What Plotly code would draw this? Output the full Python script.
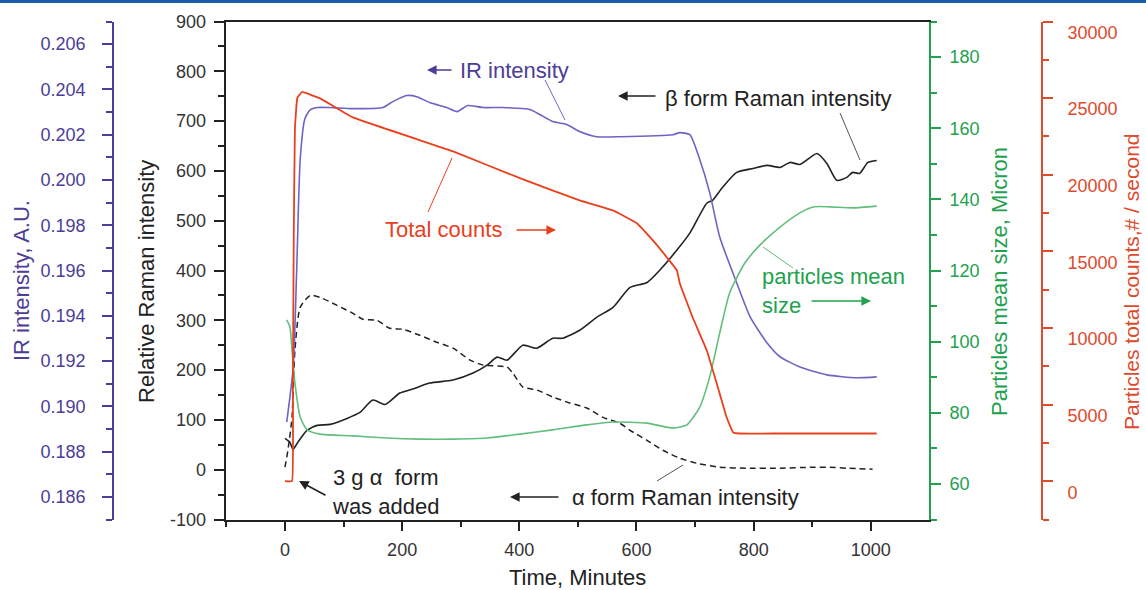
import plotly.graph_objects as go

# ---------------- data ----------------
time_ir = [3, 14, 20, 26, 34, 43, 55, 77, 116, 167, 184, 208, 225, 247, 276, 294, 312, 338, 372,
           418, 435, 457, 481, 503, 532, 572, 662, 674, 691, 708, 725, 742, 771, 794, 823, 845,
           879, 925, 976, 1010]
ir_intensity = [0.1893, 0.1917, 0.1960, 0.2009, 0.2027, 0.2031, 0.2032, 0.2032, 0.20315, 0.2032,
                0.20346, 0.20373, 0.20368, 0.20342, 0.2032, 0.20302, 0.20329, 0.2032, 0.2032,
                0.20311, 0.20289, 0.20258, 0.20245, 0.20214, 0.20191, 0.20191, 0.2020, 0.20209,
                0.2020, 0.2009, 0.19944, 0.19749, 0.19546, 0.19395, 0.1928, 0.19219, 0.19174,
                0.19139, 0.19126, 0.1913]

time_counts = [0, 12, 13.5, 15, 17, 21, 29, 60, 116, 287, 401, 503, 560, 601, 628, 652, 669, 674,
               696, 720, 737, 754, 765, 776, 845, 1010]
total_counts = [0, 0, 6000, 16000, 23000, 25000, 25400, 24980, 23740, 21521, 19778, 18323, 17670,
                16821, 15712, 14602, 13753, 12905, 10685, 8531, 6377, 4158, 3179, 3113, 3113, 3113]

time_size = [3, 8.5, 12, 17, 26, 38, 60, 116, 174, 230, 287, 345, 401, 457, 515, 560, 618, 662,
             686, 708, 725, 742, 759, 785, 811, 845, 879, 904, 930, 969, 1010]
mean_size = [106.1, 104.1, 97.7, 88.4, 78.8, 75.2, 74.0, 73.5, 72.9, 72.6, 72.6, 72.9, 74.0, 75.2,
             76.6, 77.4, 77.1, 75.7, 76.6, 81.6, 90.1, 102.4, 113.7, 122.1, 127.2, 132.2, 136.2,
             137.9, 137.9, 137.6, 138.1]

time_beta = [0, 8.5, 13.7, 22, 37.5, 55, 77, 106, 128, 150, 171, 196, 218, 247, 287, 321, 345, 362,
             379, 406, 430, 457, 474, 503, 532, 560, 589, 618, 640, 669, 691, 720, 730, 747, 771,
             799, 823, 845, 862, 879, 908, 925, 942, 959, 969, 981, 995, 1010]
beta_raman = [63, 55, 41, 55, 79, 89, 91, 103, 115, 140, 131, 154, 162, 174, 180, 194, 210, 226,
              220, 250, 244, 264, 264, 280, 306, 326, 366, 376, 401, 441, 475, 535, 541, 567, 597,
              605, 611, 607, 617, 613, 635, 615, 581, 587, 597, 595, 617, 621]

time_alpha = [0, 5, 12, 17, 26, 43, 60, 89, 116, 133, 157, 179, 201, 230, 259, 287, 316, 338, 379,
              389, 406, 430, 457, 486, 515, 543, 572, 589, 618, 645, 674, 703, 742, 788, 845, 901,
              930, 959, 1003]
alpha_raman = [5, 39, 105, 240, 326, 350, 346, 330, 314, 302, 300, 284, 282, 270, 256, 244, 220,
               210, 206, 194, 166, 160, 146, 134, 124, 105, 93, 79, 59, 39, 23, 13, 5, 3, 3, 5, 5,
               3, 1]

raman_tickvals = [-100, 0, 100, 200, 300, 400, 500, 600, 700, 800, 900]
raman_ticktext = ["-100", "0", "100", "200", "300", "400", "500", "600", "700", "800", "900"]

# ---------------- styling ----------------
W, H = 1146, 590
FONT = "Arial"
IR_C, IR_LINE = "#4B3D99", "#7063C4"
RED_C, RED_LINE = "#DE4A2C", "#E8401C"
GRN_C, GRN_LINE = "#22A14E", "#62BE7C"
BLK = "#222222"

PX_L, PX_R, PX_T, PX_B = 225.5, 929.0, 21.5, 519.5


def px(x):
    return x / W


def py(y):
    return 1 - y / H


fig = go.Figure()
fig.add_trace(go.Scatter(x=time_ir, y=ir_intensity, yaxis="y2", mode="lines",
                         line=dict(color=IR_LINE, width=1.6, shape="spline", smoothing=0.6)))
fig.add_trace(go.Scatter(x=time_counts, y=total_counts, yaxis="y4", mode="lines",
                         line=dict(color=RED_LINE, width=1.8, shape="spline", smoothing=0.25)))
fig.add_trace(go.Scatter(x=time_size, y=mean_size, yaxis="y3", mode="lines",
                         line=dict(color=GRN_LINE, width=1.6, shape="spline", smoothing=0.6)))
fig.add_trace(go.Scatter(x=time_beta, y=beta_raman, yaxis="y", mode="lines",
                         line=dict(color=BLK, width=1.6, shape="spline", smoothing=0.6)))
fig.add_trace(go.Scatter(x=time_alpha, y=alpha_raman, yaxis="y", mode="lines",
                         line=dict(color=BLK, width=1.5, dash="6px,4px", shape="spline",
                                   smoothing=0.6)))

ydom = [py(PX_B), py(PX_T)]


def yax(color, labcolor, **kw):
    d = dict(showgrid=False, zeroline=False, showline=True, linecolor=color, linewidth=1.8,
             ticks="outside", ticklen=10, tickwidth=1.5, tickcolor=color,
             tickfont=dict(family=FONT, size=18, color=labcolor),
             minor=dict(ticks="outside", ticklen=6, tickwidth=1.5, tickcolor=color,
                        showgrid=False))
    d.update(kw)
    return d


fig.update_layout(
    width=W, height=H, margin=dict(l=0, r=0, t=0, b=0, autoexpand=False),
    paper_bgcolor="white", plot_bgcolor="white", showlegend=False,
    xaxis=dict(domain=[px(PX_L), px(PX_R)], range=[-101.5, 1099.3], tick0=0, dtick=200,
               showgrid=False, zeroline=False, showline=True, linecolor=BLK, linewidth=1.8,
               mirror=True, ticks="outside", ticklen=10, tickwidth=1.5, tickcolor=BLK,
               ticklabelstandoff=3,
               tickfont=dict(family=FONT, size=18, color="#333333"),
               minor=dict(ticks="outside", ticklen=6, tickwidth=1.5, tickcolor=BLK,
                          dtick=100, tick0=0, showgrid=False)),
    yaxis=yax(BLK, "#333333", domain=ydom, range=[-100, 900], tickmode="array",
              tickvals=raman_tickvals, ticktext=raman_ticktext, side="left", anchor="x",
              ticklabelstandoff=4),
    yaxis2=yax(IR_C, IR_C, domain=ydom, overlaying="y", anchor="free", position=px(113),
               side="left", range=[0.185, 0.207], tick0=0, dtick=0.002, tickformat=".3f",
               ticklabelstandoff=13),
    yaxis3=yax(GRN_C, GRN_C, domain=ydom, overlaying="y", anchor="x", side="right",
               range=[50, 190], tick0=0, dtick=20, ticklabelstandoff=5),
    yaxis4=yax(RED_C, RED_C, domain=ydom, overlaying="y", anchor="free", position=px(1042),
               side="right", range=[-2500, 30000], tick0=0, dtick=5000, tickformat="d",
               ticklabelshift=11, ticklabelstandoff=11),
)
fig.layout.yaxis.minor.update(dtick=50, tick0=0)
fig.layout.yaxis2.minor.update(dtick=0.001, tick0=0)
fig.layout.yaxis3.minor.update(dtick=10, tick0=0)
fig.layout.yaxis4.minor.update(dtick=2500, tick0=0)

ann = []


def text(x, y, s, color, size=22, xanchor="center", angle=0, align="center"):
    ann.append(dict(x=px(x), y=py(y), xref="paper", yref="paper", text=s, showarrow=False,
                    xanchor=xanchor, yanchor="middle", textangle=angle, align=align,
                    font=dict(family=FONT, size=size, color=color)))


def arrow(hx, hy, tx, ty, color):
    ann.append(dict(x=px(hx), y=py(hy), xref="paper", yref="paper", text="", showarrow=True,
                    ax=tx - hx, ay=ty - hy, axref="pixel", ayref="pixel", arrowhead=2,
                    arrowsize=1.2, arrowwidth=1.6, arrowcolor=color, standoff=0))


# axis titles
text(22, 281, "IR intensity, A.U.", IR_C, 22, angle=-90)
text(146, 282, "Relative Raman intensity", BLK, 22, angle=-90)
text(999, 282, "Particles mean size, Micron", GRN_C, 22, angle=-90)
text(1131, 282, "Particles total counts,# / second", RED_C, 21, angle=-90)
text(577, 577, "Time, Minutes", BLK, 22)

# in-plot labels
text(458, 70, "IR intensity", IR_C, 22, xanchor="left")
arrow(427, 70, 453, 70, IR_C)
text(383, 229, "Total counts", RED_LINE, 22, xanchor="left")
arrow(556, 230, 515, 230, RED_LINE)
text(663, 98, "β form Raman intensity", BLK, 22, xanchor="left")
arrow(618, 96, 657, 96, BLK)
text(760, 291, "particles mean<br>size", GRN_C, 22, xanchor="left", align="left")
arrow(871, 301, 810, 301, GRN_C)
text(330, 492, "3 g α  form<br>was added", BLK, 22, xanchor="left", align="left")
arrow(299, 481, 327, 496, BLK)
text(570, 497, "α form Raman intensity", BLK, 22, xanchor="left")
arrow(510, 497, 560, 497, BLK)

shapes = [
    dict(type="line", xref="paper", yref="paper", x0=0, x1=1, y0=py(1.5), y1=py(1.5),
         line=dict(color="#1B5BAA", width=3)),
    dict(type="line", xref="paper", yref="paper", x0=px(545), y0=py(80), x1=px(565), y1=py(120),
         line=dict(color=IR_LINE, width=1)),
    dict(type="line", xref="paper", yref="paper", x0=px(428), y0=py(212), x1=px(452), y1=py(158),
         line=dict(color=RED_LINE, width=1)),
    dict(type="line", xref="paper", yref="paper", x0=px(840), y0=py(113), x1=px(860), y1=py(160),
         line=dict(color="#555555", width=1)),
    dict(type="line", xref="paper", yref="paper", x0=px(793), y0=py(268), x1=px(763), y1=py(247),
         line=dict(color=GRN_LINE, width=1)),
    dict(type="line", xref="paper", yref="paper", x0=px(657), y0=py(481), x1=px(683), y1=py(465),
         line=dict(color="#555555", width=1)),
]

fig.update_layout(annotations=ann, shapes=shapes)
fig.write_html("out.html")
